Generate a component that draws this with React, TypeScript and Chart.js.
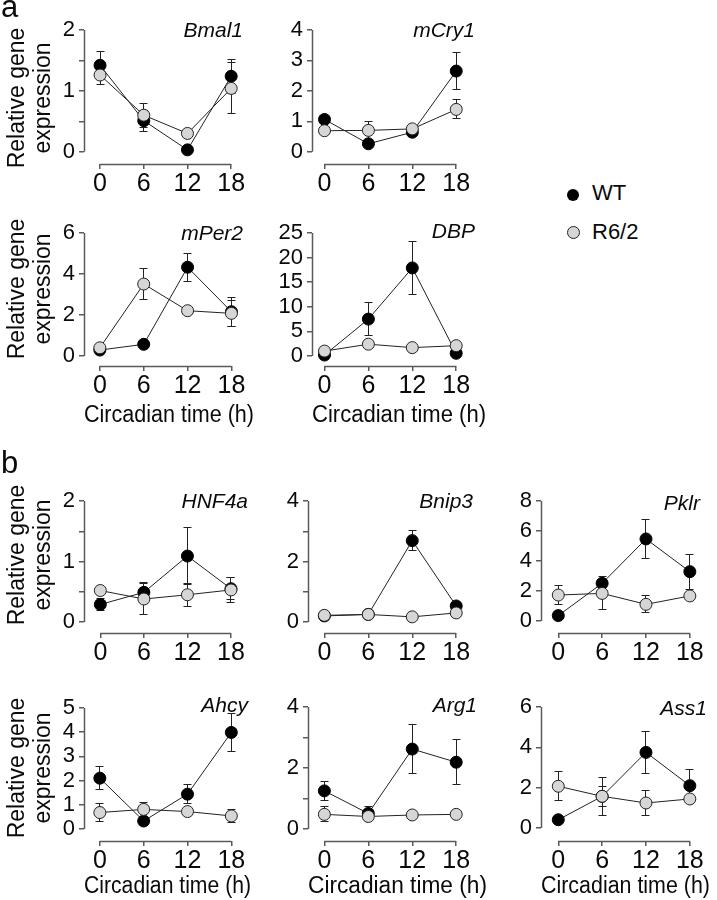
import React, { useEffect, useRef } from 'react';
import { Chart, registerables } from 'chart.js';

Chart.register(...registerables);

const FONT = "'Liberation Sans', Arial, Helvetica, sans-serif";

// ---------------- data ----------------
const times = [0, 6, 12, 18];

const bmal1WT = [1.42, 0.51, 0.03, 1.24];
const bmal1WTErr = [0.23, 0.17, 0.03, 0.28];
const bmal1R62 = [1.26, 0.6, 0.3, 1.04];
const bmal1R62Err = [0.15, 0.2, 0.03, 0.42];
const bmal1Ticks = [0, 0.5, 1, 1.5, 2];
const bmal1Labels = [0, 1, 2];

const mcry1WT = [1.06, 0.26, 0.64, 2.65];
const mcry1WTErr = [0.1, 0.08, 0.08, 0.61];
const mcry1R62 = [0.69, 0.7, 0.75, 1.39];
const mcry1R62Err = [0.08, 0.3, 0.08, 0.31];
const mcry1Ticks = [0, 1, 2, 3, 4];
const mcry1Labels = [0, 1, 2, 3, 4];

const mper2WT = [0.29, 0.57, 4.33, 2.16];
const mper2WTErr = [0.1, 0.1, 0.68, 0.7];
const mper2R62 = [0.4, 3.51, 2.21, 2.08];
const mper2R62Err = [0.1, 0.77, 0.1, 0.62];
const mper2Ticks = [0, 2, 4, 6];
const mper2Labels = [0, 2, 4, 6];

const dbpWT = [0.2, 7.5, 17.9, 0.55];
const dbpWTErr = [0.3, 3.4, 5.3, 0.3];
const dbpR62 = [1.0, 2.4, 1.7, 2.1];
const dbpR62Err = [0, 0, 0, 0];
const dbpTicks = [0, 5, 10, 15, 20, 25];
const dbpLabels = [0, 5, 10, 15, 20, 25];

const hnf4aWT = [0.29, 0.49, 1.09, 0.55];
const hnf4aWTErr = [0.1, 0.17, 0.47, 0.18];
const hnf4aR62 = [0.52, 0.38, 0.45, 0.53];
const hnf4aR62Err = [0.05, 0.25, 0.19, 0.2];
const hnf4aTicks = [0, 0.5, 1, 1.5, 2];
const hnf4aLabels = [0, 1, 2];

const bnip3WT = [0.2, 0.25, 2.69, 0.53];
const bnip3WTErr = [0.05, 0.05, 0.33, 0.05];
const bnip3R62 = [0.22, 0.25, 0.17, 0.3];
const bnip3R62Err = [0, 0, 0, 0];
const bnip3Ticks = [0, 1, 2, 3, 4];
const bnip3Labels = [0, 2, 4];

const pklrWT = [0.36, 2.51, 5.47, 3.29];
const pklrWTErr = [0.1, 0.2, 1.3, 1.17];
const pklrR62 = [1.73, 1.84, 1.11, 1.67];
const pklrR62Err = [0.63, 1.1, 0.56, 0.1];
const pklrTicks = [0, 2, 4, 6, 8];
const pklrLabels = [0, 2, 4, 6, 8];

const ahcyWT = [2.1, 0.33, 1.44, 3.99];
const ahcyWTErr = [0.48, 0.1, 0.38, 0.8];
const ahcyR62 = [0.68, 0.81, 0.72, 0.54];
const ahcyR62Err = [0.37, 0.3, 0.1, 0.28];
const ahcyTicks = [0, 1, 2, 3, 4, 5];
const ahcyLabels = [0, 1, 2, 3, 4, 5];

const arg1WT = [1.25, 0.51, 2.62, 2.19];
const arg1WTErr = [0.3, 0.22, 0.8, 0.73];
const arg1R62 = [0.48, 0.41, 0.46, 0.48];
const arg1R62Err = [0.25, 0.05, 0.05, 0.05];
const arg1Ticks = [0, 1, 2, 3, 4];
const arg1Labels = [0, 2, 4];

const ass1WT = [0.41, 1.57, 3.75, 2.1];
const ass1WTErr = [0.1, 0.5, 1.05, 0.8];
const ass1R62 = [2.07, 1.57, 1.24, 1.44];
const ass1R62Err = [0.73, 0.94, 0.62, 0.1];
const ass1Ticks = [0, 2, 4, 6];
const ass1Labels = [0, 2, 4, 6];

const xTitle = 'Circadian time (h)';
const yTitle = ['Relative gene', 'expression'];
const seriesNames = ['WT', 'R6/2'];

// ---------------- layout ----------------
type Panel = {
  gene: string;
  wt: number[]; wtErr: number[]; r62: number[]; r62Err: number[];
  ticks: number[]; labels: number[];
  left: number; right: number; ax: number; x0: number; x18: number;
  ytop: number; y0: number; xline: number;
  geneRight: number; geneBase: number;
  xTitleY?: number; yTitleY?: number;
};

const panels: Panel[] = [
  { gene: 'Bmal1', wt: bmal1WT, wtErr: bmal1WTErr, r62: bmal1R62, r62Err: bmal1R62Err, ticks: bmal1Ticks, labels: bmal1Labels,
    left: 0, right: 262, ax: 84, x0: 100.7, x18: 237.2, ytop: 30, y0: 151.7, xline: 164, geneRight: 243, geneBase: 37, yTitleY: 98 },
  { gene: 'mCry1', wt: mcry1WT, wtErr: mcry1WTErr, r62: mcry1R62, r62Err: mcry1R62Err, ticks: mcry1Ticks, labels: mcry1Labels,
    left: 262, right: 494, ax: 312, x0: 325, x18: 462, ytop: 30, y0: 151.7, xline: 164, geneRight: 475, geneBase: 37 },
  { gene: 'mPer2', wt: mper2WT, wtErr: mper2WTErr, r62: mper2R62, r62Err: mper2R62Err, ticks: mper2Ticks, labels: mper2Labels,
    left: 0, right: 261, ax: 84, x0: 100.5, x18: 237.5, ytop: 233, y0: 356, xline: 366, geneRight: 243, geneBase: 240, xTitleY: 416, yTitleY: 289 },
  { gene: 'DBP', wt: dbpWT, wtErr: dbpWTErr, r62: dbpR62, r62Err: dbpR62Err, ticks: dbpTicks, labels: dbpLabels,
    left: 262, right: 493, ax: 312, x0: 325, x18: 462, ytop: 233, y0: 356, xline: 366, geneRight: 475, geneBase: 238, xTitleY: 416 },
  { gene: 'HNF4a', wt: hnf4aWT, wtErr: hnf4aWTErr, r62: hnf4aR62, r62Err: hnf4aR62Err, ticks: hnf4aTicks, labels: hnf4aLabels,
    left: 0, right: 262, ax: 84, x0: 101, x18: 237, ytop: 501, y0: 622, xline: 633, geneRight: 248, geneBase: 508, yTitleY: 555 },
  { gene: 'Bnip3', wt: bnip3WT, wtErr: bnip3WTErr, r62: bnip3R62, r62Err: bnip3R62Err, ticks: bnip3Ticks, labels: bnip3Labels,
    left: 262, right: 494, ax: 308, x0: 325, x18: 462, ytop: 501, y0: 622, xline: 633, geneRight: 473, geneBase: 508 },
  { gene: 'Pklr', wt: pklrWT, wtErr: pklrWTErr, r62: pklrR62, r62Err: pklrR62Err, ticks: pklrTicks, labels: pklrLabels,
    left: 495, right: 717, ax: 541, x0: 559, x18: 696, ytop: 501, y0: 621, xline: 633, geneRight: 700, geneBase: 510 },
  { gene: 'Ahcy', wt: ahcyWT, wtErr: ahcyWTErr, r62: ahcyR62, r62Err: ahcyR62Err, ticks: ahcyTicks, labels: ahcyLabels,
    left: 0, right: 258, ax: 84, x0: 100.5, x18: 237.5, ytop: 708, y0: 829, xline: 841, geneRight: 248, geneBase: 712, xTitleY: 887, yTitleY: 768 },
  { gene: 'Arg1', wt: arg1WT, wtErr: arg1WTErr, r62: arg1R62, r62Err: arg1R62Err, ticks: arg1Ticks, labels: arg1Labels,
    left: 262, right: 494, ax: 308, x0: 325, x18: 462, ytop: 707, y0: 829, xline: 841, geneRight: 477, geneBase: 712, xTitleY: 887 },
  { gene: 'Ass1', wt: ass1WT, wtErr: ass1WTErr, r62: ass1R62, r62Err: ass1R62Err, ticks: ass1Ticks, labels: ass1Labels,
    left: 495, right: 717, ax: 541, x0: 559, x18: 696, ytop: 707, y0: 828, xline: 841, geneRight: 707, geneBase: 715, xTitleY: 887 },
];

const AXIS_COLOR = '#5a5a5a';
const TEXT_COLOR = '#0a0a0a';
const LINE_COLOR = '#222';
const GRAY_FILL = '#d6d6d6';
const PAD_TOP = 30;
const XTICK_SIZE = 25;
const YTICK_SIZE = 22;
const TITLE_SIZE = 23;

function PanelChart({ p }: { p: Panel }) {
  const ref = useRef<HTMLCanvasElement | null>(null);
  const top = Math.round(p.ytop - PAD_TOP);
  const bottom = p.xTitleY ? p.xTitleY + 16 : p.xline + 42;
  const width = p.right - p.left;
  const height = bottom - top;

  useEffect(() => {
    if (!ref.current) return;
    const ppu = (p.x18 - p.x0) / 18;
    const ymax = p.ticks[p.ticks.length - 1];
    const ymin = (-ymax * (p.xline - p.y0)) / (p.y0 - p.ytop);

    const decor = {
      id: 'decor',
      beforeDatasetsDraw(chart: any) {
        const { ctx, chartArea, scales } = chart;
        const x = scales.x;
        const y = scales.y;
        ctx.save();
        // detached axis lines
        ctx.strokeStyle = AXIS_COLOR;
        ctx.lineWidth = 1.5;
        const ax = Math.round(chartArea.left - 0.5) + 0.5;
        ctx.beginPath();
        ctx.moveTo(ax, y.getPixelForValue(ymax));
        ctx.lineTo(ax, y.getPixelForValue(0));
        ctx.stroke();
        const ay = Math.round(chartArea.bottom - 0.5) + 0.5;
        ctx.beginPath();
        ctx.moveTo(x.getPixelForValue(times[0]), ay);
        ctx.lineTo(x.getPixelForValue(times[times.length - 1]), ay);
        ctx.stroke();
        // error bars
        ctx.strokeStyle = LINE_COLOR;
        ctx.lineWidth = 1;
        const sets: [number[], number[]][] = [[p.wt, p.wtErr], [p.r62, p.r62Err]];
        for (const [vals, errs] of sets) {
          vals.forEach((v, i) => {
            const e = errs[i];
            if (!e) return;
            const cx = Math.round(x.getPixelForValue(times[i]) - 0.5) + 0.5;
            const pt = Math.round(y.getPixelForValue(v + e) - 0.5) + 0.5;
            const pb = Math.round(y.getPixelForValue(v - e) - 0.5) + 0.5;
            ctx.beginPath();
            ctx.moveTo(cx, pt);
            ctx.lineTo(cx, pb);
            ctx.moveTo(cx - 4, pt);
            ctx.lineTo(cx + 4, pt);
            ctx.moveTo(cx - 4, pb);
            ctx.lineTo(cx + 4, pb);
            ctx.stroke();
          });
        }
        ctx.restore();
      },
      afterDraw(chart: any) {
        const { ctx } = chart;
        ctx.save();
        ctx.fillStyle = TEXT_COLOR;
        ctx.font = `italic 21px ${FONT}`;
        ctx.textAlign = 'right';
        ctx.textBaseline = 'alphabetic';
        ctx.fillText(p.gene, p.geneRight - p.left, p.geneBase - top);
        if (p.yTitleY) {
          ctx.font = `${TITLE_SIZE}px ${FONT}`;
          ctx.textAlign = 'center';
          ctx.textBaseline = 'middle';
          yTitle.forEach((line, i) => {
            ctx.save();
            ctx.translate(17.5 + i * 26.5 - p.left, p.yTitleY! - top);
            ctx.rotate(-Math.PI / 2);
            ctx.fillText(line, 0, 0);
            ctx.restore();
          });
        }
        ctx.restore();
      },
    };

    const chart = new Chart(ref.current, {
      type: 'line',
      data: {
        datasets: [
          {
            label: seriesNames[1],
            data: times.map((t, i) => ({ x: t, y: p.r62[i] })),
            borderColor: LINE_COLOR,
            borderWidth: 1,
            pointBackgroundColor: GRAY_FILL,
            pointBorderColor: LINE_COLOR,
            pointBorderWidth: 1,
            pointRadius: 6,
            tension: 0,
            clip: false as any,
          },
          {
            label: seriesNames[0],
            data: times.map((t, i) => ({ x: t, y: p.wt[i] })),
            borderColor: LINE_COLOR,
            borderWidth: 1,
            pointBackgroundColor: '#000',
            pointBorderColor: '#000',
            pointBorderWidth: 1,
            pointRadius: 6,
            tension: 0,
            clip: false as any,
          },
        ],
      },
      options: {
        animation: false,
        responsive: false,
        devicePixelRatio: 1,
        events: [],
        layout: { padding: { top: p.ytop - top, left: 0, right: 0, bottom: 0 } },
        plugins: { legend: { display: false }, tooltip: { enabled: false }, title: { display: false } },
        scales: {
          x: {
            type: 'linear',
            min: -(p.x0 - p.ax) / ppu,
            max: (p.right - p.x0) / ppu,
            afterBuildTicks: (s: any) => {
              s.ticks = times.map((v) => ({ value: v }));
            },
            afterFit: (s: any) => {
              s.height = bottom - p.xline;
            },
            grid: { display: true, drawOnChartArea: false, drawTicks: true, tickLength: 5, color: AXIS_COLOR, lineWidth: 1.5 },
            border: { display: false },
            ticks: {
              font: { size: XTICK_SIZE, family: FONT },
              color: TEXT_COLOR,
              padding: 0,
              autoSkip: false,
              maxRotation: 0,
              callback: (v: any) => String(v),
            },
            title: {
              display: !!p.xTitleY,
              text: xTitle,
              font: { size: TITLE_SIZE, family: FONT },
              color: TEXT_COLOR,
              padding: { top: 0, bottom: p.xTitleY ? bottom - p.xTitleY - TITLE_SIZE * 0.6 : 0 },
            },
          },
          y: {
            type: 'linear',
            min: ymin,
            max: ymax,
            afterBuildTicks: (s: any) => {
              s.ticks = p.ticks.map((v) => ({ value: v }));
            },
            afterFit: (s: any) => {
              s.width = p.ax - p.left;
            },
            grid: { display: true, drawOnChartArea: false, drawTicks: true, tickLength: 5, color: AXIS_COLOR, lineWidth: 1.5 },
            border: { display: false },
            ticks: {
              font: { size: YTICK_SIZE, family: FONT },
              color: TEXT_COLOR,
              padding: 4,
              autoSkip: false,
              callback: (v: any) => (p.labels.includes(Number(v)) ? String(v) : ''),
            },
          },
        },
      } as any,
      plugins: [decor],
    });
    return () => chart.destroy();
  }, []);

  return (
    <canvas
      ref={ref}
      width={width}
      height={height}
      style={{ position: 'absolute', left: p.left, top, width, height }}
    />
  );
}

export default function App() {
  useEffect(() => {
    document.body.style.margin = '0';
  }, []);
  const textStyle: React.CSSProperties = {
    position: 'absolute',
    fontFamily: FONT,
    color: TEXT_COLOR,
    whiteSpace: 'nowrap',
  };
  return (
    <div style={{ position: 'relative', width: 717, height: 900, overflow: 'hidden', background: '#fff' }}>
      {panels.map((p) => (
        <PanelChart key={p.gene} p={p} />
      ))}
      <div style={{ ...textStyle, left: 1, top: -8, fontSize: 31, lineHeight: '30px' }}>a</div>
      <div style={{ ...textStyle, left: 1, top: 448, fontSize: 31, lineHeight: '30px' }}>b</div>
      {/* legend */}
      <div style={{ position: 'absolute', left: 567, top: 189, width: 12, height: 12, borderRadius: '50%', background: '#000' }} />
      <div style={{ ...textStyle, left: 592, top: 179, fontSize: 22, lineHeight: '28px' }}>{seriesNames[0]}</div>
      <div style={{ position: 'absolute', left: 566.5, top: 225.5, width: 13, height: 13, borderRadius: '50%', background: GRAY_FILL, border: `1px solid ${LINE_COLOR}`, boxSizing: 'border-box' }} />
      <div style={{ ...textStyle, left: 592, top: 218, fontSize: 22, lineHeight: '28px' }}>{seriesNames[1]}</div>
    </div>
  );
}
